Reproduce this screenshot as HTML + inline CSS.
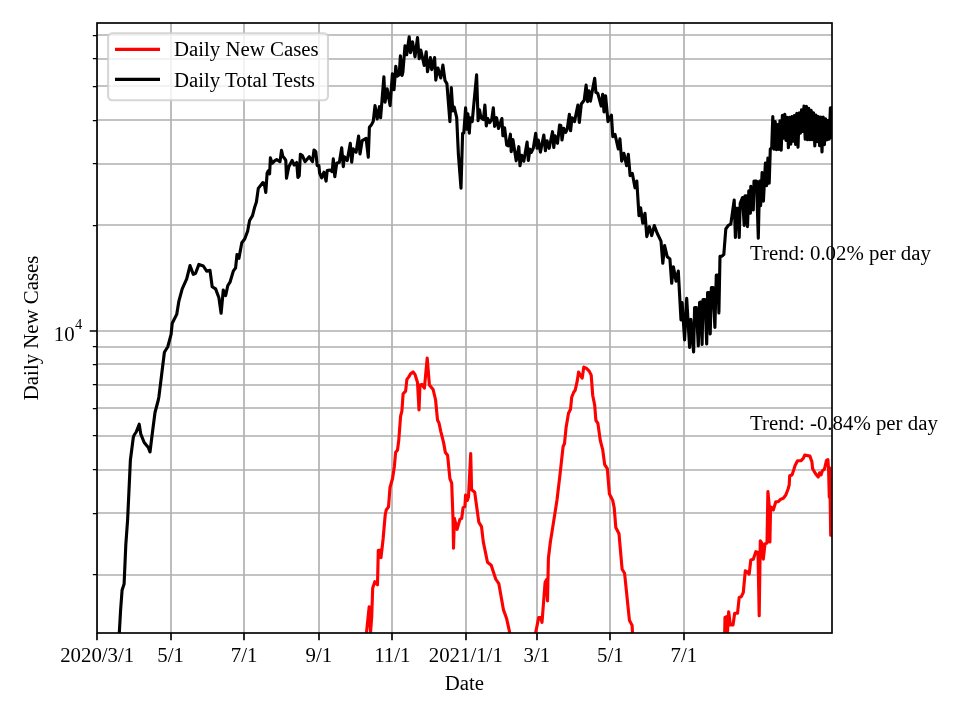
<!DOCTYPE html>
<html><head><meta charset="utf-8"><style>
html,body{margin:0;padding:0;background:#fff;}
body{width:960px;height:720px;overflow:hidden;}
svg{display:block;will-change:transform;}
text{font-family:"Liberation Serif", serif;fill:#000;}
</style></head><body>
<svg width="960" height="720" viewBox="0 0 960 720">
<defs><clipPath id="ax"><rect x="97.00" y="23.00" width="735.00" height="610.00"/></clipPath></defs>
<rect x="0" y="0" width="960" height="720" fill="#fff"/>
<path d="M97.00 23.00 V633.00 M171.00 23.00 V633.00 M244.00 23.00 V633.00 M319.00 23.00 V633.00 M392.00 23.00 V633.00 M466.00 23.00 V633.00 M537.00 23.00 V633.00 M610.00 23.00 V633.00 M684.00 23.00 V633.00 M97.00 575.00 H832.00 M97.00 513.00 H832.00 M97.00 470.00 H832.00 M97.00 436.00 H832.00 M97.00 408.00 H832.00 M97.00 385.00 H832.00 M97.00 364.00 H832.00 M97.00 347.00 H832.00 M97.00 331.00 H832.00 M97.00 225.00 H832.00 M97.00 164.00 H832.00 M97.00 120.00 H832.00 M97.00 86.00 H832.00 M97.00 59.00 H832.00 M97.00 35.00 H832.00" stroke="#b0b0b0" stroke-width="1.67" fill="none" stroke-linecap="square" clip-path="url(#ax)"/>
<g clip-path="url(#ax)" fill="none" stroke-width="3.125" stroke-linejoin="round" stroke-linecap="square">
<path d="M365.5 645.0 L366.5 632.7 L369.2 606.7 L370.6 631.7 L371.7 617.0 L372.7 587.9 L374.8 581.7 L377.5 584.8 L378.3 550.4 L380.4 550.4 L381.0 557.7 L383.1 539.0 L385.2 515.0 L386.2 510.0 L388.5 506.9 L390.0 487.5 L392.5 478.8 L394.4 466.2 L395.6 452.5 L397.5 450.0 L398.8 440.0 L400.6 416.2 L401.9 411.2 L403.1 393.8 L405.6 391.2 L406.9 379.4 L408.8 376.9 L410.6 373.8 L413.1 371.9 L415.0 374.4 L417.5 382.5 L419.0 410.0 L420.0 385.0 L421.9 384.4 L424.4 388.1 L427.2 358.1 L429.4 385.0 L433.1 389.4 L435.6 400.0 L437.5 420.0 L439.0 423.0 L440.9 431.8 L443.6 442.6 L445.4 452.6 L447.6 455.3 L449.9 478.7 L451.7 483.2 L453.0 518.4 L453.5 548.2 L454.4 518.4 L457.1 529.3 L459.9 519.4 L461.7 518.4 L463.1 507.6 L464.9 506.7 L465.6 495.0 L467.4 500.4 L468.5 496.8 L470.7 453.5 L471.6 489.6 L474.7 492.3 L478.8 522.1 L481.5 526.6 L483.3 541.9 L487.5 562.2 L491.2 565.3 L495.7 579.0 L498.8 583.6 L503.4 609.6 L506.5 618.2 L509.5 631.6 L511.0 645.0" stroke="#ff0000"/>
<path d="M534.0 645.0 L535.8 632.0 L538.7 617.5 L540.7 617.5 L542.0 622.3 L545.1 582.5 L546.5 579.6 L547.5 601.0 L548.4 558.3 L550.4 541.7 L552.3 530.1 L554.9 513.6 L557.0 500.0 L560.1 473.7 L563.1 446.5 L564.5 443.5 L566.1 427.4 L568.5 413.3 L570.5 409.3 L571.7 397.3 L573.7 392.2 L575.2 390.2 L577.2 381.2 L578.6 372.1 L580.2 375.1 L582.2 378.1 L583.8 367.1 L586.2 368.1 L589.2 371.1 L591.2 375.1 L592.7 395.2 L594.7 405.3 L595.9 420.4 L597.9 423.4 L600.3 440.5 L602.7 449.6 L604.7 464.7 L607.3 468.7 L609.4 493.8 L610.6 496.3 L612.7 500.4 L614.2 507.7 L615.8 527.5 L619.0 533.8 L622.1 569.2 L624.6 573.3 L629.4 620.2 L632.1 625.4 L632.5 632.7 L633.0 645.0" stroke="#ff0000"/>
<path d="M724.5 645.0 L724.7 632.5 L725.0 617.5 L726.7 616.7 L727.5 631.7 L728.7 611.7 L730.3 625.0 L733.0 625.0 L734.7 613.3 L737.5 613.3 L739.2 597.5 L741.3 596.7 L743.3 592.5 L745.3 570.8 L747.0 571.7 L749.2 574.2 L750.8 560.0 L753.3 559.2 L755.8 551.7 L758.0 552.5 L759.2 615.8 L760.3 540.8 L762.0 543.3 L763.3 559.2 L765.0 543.9 L767.0 543.0 L767.9 491.5 L769.3 506.5 L769.9 542.0 L770.6 507.0 L771.7 507.5 L773.3 510.0 L775.8 501.7 L778.3 501.7 L780.8 499.2 L783.3 498.3 L785.8 495.0 L788.0 489.2 L789.2 485.0 L789.7 475.8 L792.0 475.0 L793.7 470.0 L795.0 465.8 L797.5 460.8 L800.8 460.8 L803.3 458.3 L804.7 455.0 L809.9 456.1 L811.9 461.7 L812.6 468.6 L815.4 473.5 L818.2 477.0 L819.6 472.8 L821.0 475.0 L822.4 470.7 L824.4 469.3 L826.5 460.3 L827.9 459.6 L828.6 470.0 L829.3 497.1 L829.7 467.9 L830.7 535.3 L833.0 535.3" stroke="#ff0000"/>
<path d="M118.9 645.0 L119.3 633.0 L120.6 610.0 L122.1 590.0 L124.1 584.0 L125.8 545.0 L127.6 520.0 L130.4 460.0 L133.3 437.5 L134.2 435.0 L136.2 432.0 L139.2 424.2 L140.8 434.2 L144.2 442.5 L148.3 447.5 L150.0 452.0 L152.0 435.8 L155.0 412.5 L158.3 400.0 L158.9 396.7 L164.4 352.2 L167.8 346.7 L171.1 334.4 L172.2 323.3 L176.7 314.4 L178.9 301.1 L182.2 288.9 L186.7 278.9 L190.0 265.6 L193.3 274.4 L195.6 273.3 L198.9 264.4 L203.3 266.0 L206.7 271.1 L210.0 270.4 L212.2 286.7 L215.6 288.9 L218.9 297.8 L221.1 313.3 L223.3 290.0 L225.6 295.6 L227.8 285.6 L230.0 282.2 L233.3 271.1 L235.6 267.8 L237.0 254.5 L238.9 258.4 L241.8 242.8 L244.7 239.0 L247.6 231.2 L249.6 220.5 L252.5 215.6 L254.5 207.8 L256.4 202.0 L258.3 188.4 L262.9 182.5 L264.2 183.3 L265.8 192.5 L267.1 173.3 L268.3 170.8 L269.6 173.8 L270.4 157.9 L272.1 163.3 L274.6 160.8 L276.7 159.6 L280.0 161.7 L281.5 150.4 L282.9 156.7 L284.2 157.9 L285.8 160.4 L286.5 178.3 L288.8 166.7 L292.1 160.4 L294.2 165.0 L296.7 162.5 L297.9 177.5 L299.2 175.8 L300.4 154.2 L302.5 155.8 L305.0 161.7 L309.2 156.7 L312.5 161.7 L314.0 150.0 L315.8 151.7 L317.2 165.6 L318.9 165.6 L319.6 173.0 L321.7 177.8 L323.9 172.2 L326.1 181.1 L327.2 170.6 L330.0 170.0 L332.2 171.7 L333.3 158.9 L334.8 176.7 L336.7 163.3 L339.4 162.2 L341.7 147.8 L343.3 166.7 L344.4 156.7 L347.2 160.6 L350.3 143.3 L351.7 162.2 L353.3 148.9 L356.1 152.2 L358.6 136.1 L360.0 153.9 L362.2 140.6 L366.1 138.3 L368.3 157.2 L369.4 127.2 L371.7 124.4 L373.3 121.1 L375.0 105.6 L377.2 118.9 L379.4 106.7 L380.6 117.8 L383.9 76.7 L385.0 102.2 L387.2 88.9 L390.1 105.6 L392.4 73.8 L394.0 89.8 L395.8 66.3 L397.1 76.3 L399.2 74.7 L400.4 55.9 L402.1 75.5 L402.9 72.2 L405.0 45.9 L406.7 54.7 L409.2 36.8 L410.4 52.6 L412.5 41.8 L415.0 56.8 L417.5 37.6 L419.2 58.8 L420.8 50.1 L424.2 65.5 L426.2 51.8 L427.5 71.8 L430.4 57.6 L431.7 69.7 L434.6 57.6 L435.8 80.1 L437.9 68.0 L440.8 78.0 L442.9 65.1 L445.0 80.5 L446.9 83.6 L449.9 121.6 L451.3 87.5 L452.8 110.9 L454.2 107.0 L456.7 117.7 L458.4 154.4 L461.0 188.2 L462.6 133.5 L463.8 133.0 L465.6 107.9 L466.9 129.3 L467.9 113.8 L469.3 133.2 L470.3 117.7 L472.2 121.6 L476.6 74.9 L478.1 120.6 L479.5 109.9 L481.0 117.7 L483.4 119.6 L484.9 105.0 L486.3 125.9 L487.8 118.6 L489.7 122.5 L491.7 119.6 L493.3 107.9 L494.6 126.4 L496.6 117.7 L498.5 128.4 L501.9 118.6 L502.9 135.8 L504.6 127.9 L506.7 145.0 L508.3 145.8 L510.4 134.2 L511.2 151.7 L512.9 139.6 L516.2 160.8 L518.8 146.7 L520.0 165.8 L521.7 155.4 L523.8 161.2 L527.1 142.1 L528.3 160.4 L530.0 149.2 L531.2 152.5 L533.3 148.3 L535.7 133.3 L537.1 148.3 L538.3 140.0 L540.4 152.1 L543.8 135.0 L545.4 150.8 L547.1 140.8 L549.2 148.3 L552.5 131.7 L553.8 147.5 L555.0 135.8 L557.5 143.3 L559.6 125.0 L560.8 125.4 L562.0 140.0 L563.8 128.4 L565.7 132.3 L567.2 129.3 L569.4 114.3 L570.6 130.8 L572.0 117.7 L574.5 121.6 L577.9 105.0 L579.3 122.5 L581.3 104.0 L584.2 100.2 L586.1 85.1 L587.6 101.6 L589.0 90.9 L590.5 101.1 L592.0 92.4 L594.7 78.3 L595.9 92.4 L597.8 93.3 L601.2 106.0 L602.7 94.3 L604.0 112.0 L605.6 95.8 L608.0 121.6 L611.4 115.2 L612.8 136.7 L615.0 134.4 L618.3 148.9 L619.9 138.9 L621.7 161.1 L623.9 153.3 L626.6 165.6 L628.3 154.4 L630.1 175.6 L632.3 173.3 L635.0 187.8 L636.8 181.1 L639.0 215.6 L640.6 207.8 L642.8 223.3 L645.0 213.3 L646.8 236.7 L649.4 226.7 L651.7 235.6 L654.3 225.6 L657.2 233.3 L661.0 241.1 L662.8 263.3 L664.6 245.6 L667.2 256.7 L669.9 258.9 L671.7 283.3 L673.4 266.7 L676.1 281.1 L678.3 271.1 L681.0 320.0 L682.1 302.5 L684.6 340.0 L686.7 298.3 L689.6 347.5 L690.8 319.2 L693.6 352.0 L694.6 307.5 L696.3 307.5 L698.3 346.0 L699.6 302.5 L700.8 302.0 L702.1 344.5 L703.0 299.5 L705.0 299.5 L706.7 344.0 L707.6 292.5 L709.2 292.5 L710.2 334.0 L711.4 287.5 L713.0 287.5 L714.9 327.5 L716.3 275.0 L718.0 275.0 L718.9 312.9 L720.0 256.3 L721.7 256.3 L723.8 254.6 L725.8 229.0 L728.3 225.4 L730.8 224.2 L734.2 200.0 L735.4 237.5 L736.5 208.3 L738.0 208.3 L739.2 237.5 L740.2 203.3 L742.5 197.5 L744.2 225.4 L745.0 195.8 L746.0 195.8 L747.5 226.7 L748.8 190.8 L750.4 213.3 L750.8 186.3 L753.3 210.0 L754.0 181.0 L756.5 181.0 L758.3 238.3 L759.6 181.0 L760.6 205.6 L762.1 172.5 L763.4 201.1 L765.4 163.0 L766.6 185.6 L767.9 158.0 L769.2 183.3 L770.3 149.0 L771.7 148.0 L772.8 116.6 L774.0 149.1 L775.2 121.6 L776.4 149.7 L777.6 124.6 L778.8 149.5 L780.0 120.8 L781.2 150.1 L782.4 115.3 L783.6 138.1 L784.8 114.4 L786.0 140.4 L787.2 117.2 L788.4 147.6 L789.6 117.2 L790.8 144.2 L792.0 116.6 L793.2 141.1 L794.4 115.6 L795.6 144.5 L796.8 113.3 L798.0 147.3 L799.2 112.9 L800.4 133.1 L801.6 109.7 L802.8 131.4 L804.0 106.0 L805.2 139.3 L806.4 106.3 L807.6 139.7 L808.8 108.3 L810.0 139.6 L811.2 110.3 L812.4 139.6 L813.6 112.9 L814.8 145.9 L816.0 115.1 L817.2 141.6 L818.4 116.6 L819.6 145.8 L820.8 117.0 L822.0 151.9 L823.2 117.0 L824.4 144.7 L825.6 118.8 L826.8 140.0 L828.0 120.5 L829.2 139.3 L830.4 107.9 L831.6 137.5 L832.8 107.5" stroke="#000"/>
</g>
<text x="750" y="259.9" font-size="20.83">Trend: 0.02% per day</text>
<text x="750" y="429.9" font-size="20.83">Trend: -0.84% per day</text>
<rect x="108.10" y="33.20" width="219.90" height="67.00" rx="4.17" ry="4.17" fill="#fff" fill-opacity="0.8" stroke="#cccccc" stroke-opacity="0.8" stroke-width="2.08"/>
<path d="M115 49.4 H160" stroke="#ff0000" stroke-width="3.125"/>
<path d="M115 79.4 H160" stroke="#000" stroke-width="3.125"/>
<text x="174" y="55.5" font-size="20.83">Daily New Cases</text>
<text x="174" y="86.7" font-size="20.83">Daily Total Tests</text>
<rect x="97.00" y="23.00" width="735.00" height="610.00" fill="none" stroke="#000" stroke-width="1.67" stroke-linejoin="miter"/>
<path d="M97.00 633.00 V640.29 M171.00 633.00 V640.29 M244.00 633.00 V640.29 M319.00 633.00 V640.29 M392.00 633.00 V640.29 M466.00 633.00 V640.29 M537.00 633.00 V640.29 M610.00 633.00 V640.29 M684.00 633.00 V640.29 M97.00 331.00 H89.71" stroke="#000" stroke-width="1.67"/>
<path d="M97.00 574.50 H92.83 M97.00 513.50 H92.83 M97.00 469.50 H92.83 M97.00 435.50 H92.83 M97.00 408.50 H92.83 M97.00 384.50 H92.83 M97.00 364.50 H92.83 M97.00 346.50 H92.83 M97.00 225.50 H92.83 M97.00 163.50 H92.83 M97.00 120.50 H92.83 M97.00 86.50 H92.83 M97.00 58.50 H92.83 M97.00 35.50 H92.83" stroke="#000" stroke-width="1.25"/>
<text x="97.20" y="661.5" font-size="20.83" text-anchor="middle">2020/3/1</text>
<text x="170.67" y="661.5" font-size="20.83" text-anchor="middle">5/1</text>
<text x="244.15" y="661.5" font-size="20.83" text-anchor="middle">7/1</text>
<text x="318.83" y="661.5" font-size="20.83" text-anchor="middle">9/1</text>
<text x="392.30" y="661.5" font-size="20.83" text-anchor="middle">11/1</text>
<text x="465.78" y="661.5" font-size="20.83" text-anchor="middle">2021/1/1</text>
<text x="536.84" y="661.5" font-size="20.83" text-anchor="middle">3/1</text>
<text x="610.32" y="661.5" font-size="20.83" text-anchor="middle">5/1</text>
<text x="683.79" y="661.5" font-size="20.83" text-anchor="middle">7/1</text>
<text x="74.6" y="340.8" font-size="20.83" text-anchor="end">10</text>
<text x="75" y="328.7" font-size="14.6">4</text>
<text x="464.35" y="689.5" font-size="20.83" text-anchor="middle">Date</text>
<text transform="translate(37.9 327.9) rotate(-90)" x="0" y="0" font-size="20.83" text-anchor="middle">Daily New Cases</text>
</svg>
</body></html>
